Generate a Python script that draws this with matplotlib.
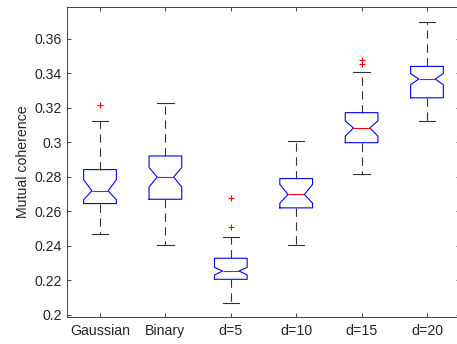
import matplotlib
matplotlib.use('Agg')
import matplotlib.pyplot as plt
from matplotlib.ticker import FormatStrFormatter, FuncFormatter

# box statistics
CATEGORIES = ['Gaussian', 'Binary', 'd=5', 'd=10', 'd=15', 'd=20']
WHISLO = [0.2468, 0.2406, 0.2068, 0.2406, 0.2817, 0.3123]
Q1 = [0.2646, 0.2671, 0.2207, 0.2621, 0.2999, 0.3259]
MED = [0.2720, 0.2800, 0.2255, 0.2699, 0.3084, 0.3368]
Q3 = [0.2843, 0.2922, 0.2329, 0.2791, 0.3173, 0.3441]
WHISHI = [0.3125, 0.3231, 0.2452, 0.3010, 0.3410, 0.3700]
CILO = [0.2668, 0.2742, 0.2232, 0.2648, 0.3037, 0.3335]
CIHI = [0.2784, 0.2855, 0.2276, 0.2757, 0.3126, 0.3400]
FLIERS = [[0.3216], [], [0.2676, 0.2512], [], [0.3478, 0.3455], []]

TEXT_COL = '#262626'

plt.rcParams['font.family'] = ['Liberation Sans', 'DejaVu Sans']
plt.rcParams['font.size'] = 10.2
plt.rcParams['lines.scale_dashes'] = False

fig = plt.figure(figsize=(4.57, 3.44), dpi=100)
ax = fig.add_axes([67.3 / 457, 27 / 344, 392.4 / 457, 310 / 344])

stats = []
for i in range(len(CATEGORIES)):
    stats.append(dict(label=CATEGORIES[i], whislo=WHISLO[i], q1=Q1[i], med=MED[i],
                      q3=Q3[i], whishi=WHISHI[i], cilo=CILO[i], cihi=CIHI[i],
                      fliers=FLIERS[i]))

ax.bxp(stats, positions=range(1, len(CATEGORIES) + 1), widths=0.5, capwidths=0.25,
       shownotches=True,
       boxprops=dict(color='blue', linewidth=0.8),
       medianprops=dict(color='red', linewidth=0.8),
       whiskerprops=dict(color='#333333', linewidth=0.8, linestyle=(0, (6, 4))),
       capprops=dict(color='#333333', linewidth=0.8),
       flierprops=dict(marker='+', markeredgecolor='red', markersize=5,
                       markeredgewidth=0.8, linestyle='none'))

ax.set_xlim(0.5, 6.5)
ax.set_ylim(0.19884, 0.37855)
ax.set_yticks([0.2, 0.22, 0.24, 0.26, 0.28, 0.3, 0.32, 0.34, 0.36])
ax.yaxis.set_major_formatter(FuncFormatter(lambda v, p: '%g' % round(v, 4)))
ax.set_ylabel('Mutual coherence', color=TEXT_COL)
ax.yaxis.set_label_coords(-0.095, 0.5)

ax.tick_params(direction='in', length=3, width=0.6, top=True, right=True,
               colors=TEXT_COL, labelcolor=TEXT_COL)
ax.tick_params(axis='x', pad=5)
ax.tick_params(axis='y', pad=4)
for s in ax.spines.values():
    s.set_color(TEXT_COL)
    s.set_linewidth(0.6)

fig.savefig('out.png', dpi=100)
